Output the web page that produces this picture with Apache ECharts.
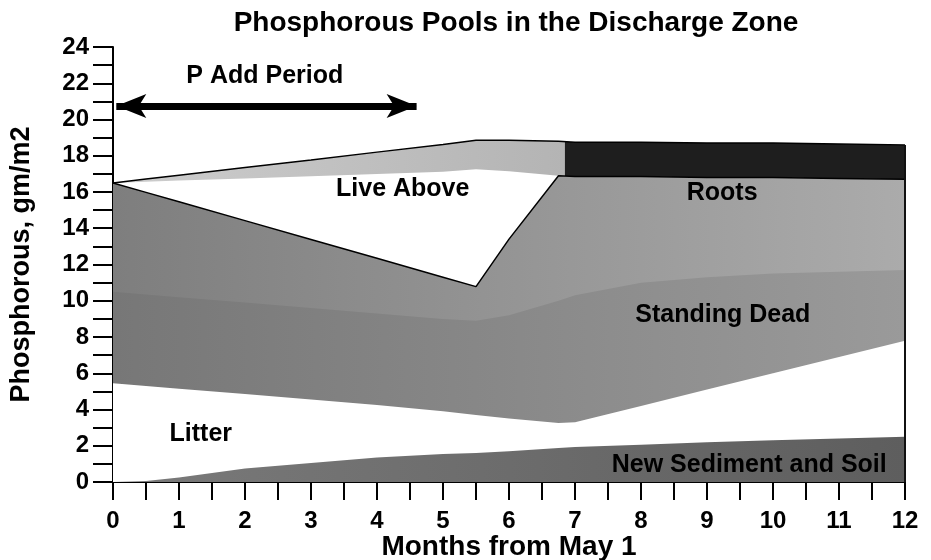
<!DOCTYPE html>
<html>
<head>
<meta charset="utf-8">
<script src="https://cdn.jsdelivr.net/npm/echarts@6/dist/echarts.min.js"></script>
<style>
  html, body { margin: 0; padding: 0; background: #fff; }
  #chart { width: 931px; height: 560px; }
</style>
</head>
<body>
<div id="chart"></div>
<script>
// months from May 1 (shared x values for every pool)
var months = [0, 0.5, 1, 2, 3, 4, 5, 5.5, 6, 6.75, 7, 8, 9, 10, 11, 12];

// P in each pool, gm/m2 (layer thickness)
var sediment     = [0, 0.05, 0.25, 0.75, 1.05, 1.35, 1.55, 1.6, 1.7, 1.88, 1.93, 2.05, 2.2, 2.3, 2.4, 2.5];
var litter       = [5.45, 5.25, 4.9, 4.1, 3.5, 2.9, 2.35, 2.1, 1.8, 1.37, 1.37, 2.15, 2.9, 3.7, 4.5, 5.3];
var standingDead = [5.05, 5.05, 5.05, 5.05, 5.05, 5.05, 5.1, 5.2, 5.7, 6.75, 7.0, 6.8, 6.2, 5.5, 4.7, 3.9];
var roots        = [6.0, 5.63, 5.26, 4.52, 3.78, 3.04, 2.3, 1.88, 4.2, 6.9, 6.55, 5.85, 5.5, 5.3, 5.15, 5.0];
var liveAbove    = [0, 0.59, 1.17, 2.33, 3.49, 4.66, 5.82, 6.47, 3.75, 0, 0, 0, 0, 0, 0, 0];
var topBand      = [0, 0.15, 0.3, 0.6, 0.9, 1.2, 1.5, 1.6, 1.7, 1.9, 1.9, 1.9, 1.9, 1.9, 1.9, 1.9];

// P add period arrow
var pAddStart = 0.05;
var pAddEnd = 4.6;
var pAddLevel = 20.75;

var font = '"Liberation Sans", Arial, Helvetica, sans-serif';

// echarts stacks the x dimension on a value/value grid, so sum the pools here
var pools = [sediment, litter, standingDead, roots, liveAbove, topBand];
var running = months.map(function () { return 0; });
var tops = pools.map(function (vals) {
    running = running.map(function (r, i) { return +(r + vals[i]).toFixed(3); });
    return running;
});
var lastMonth = months[months.length - 1];
var lastTotal = tops[5][months.length - 1];

function layer(name, idx, color, line) {
    return {
        name: name,
        type: 'line',
        symbol: 'none',
        data: months.map(function (m, i) { return [m, tops[idx][i]]; }),
        lineStyle: line || { width: 0 },
        areaStyle: { color: color, opacity: 1, origin: 'start' },
        silent: true
    };
}

function hgrad(left, right) {
    return new echarts.graphic.LinearGradient(0, 0, 1, 0, [
        { offset: 0, color: left },
        { offset: 1, color: right }
    ]);
}

function tag(text, x, y) {
    return {
        coord: [x, y],
        symbol: 'circle',
        symbolSize: 1,
        itemStyle: { color: 'rgba(0,0,0,0)' },
        label: {
            show: true,
            position: 'inside',
            formatter: text,
            color: '#000',
            fontFamily: font,
            fontWeight: 'bold',
            fontSize: 25
        }
    };
}

var myChart = echarts.init(document.getElementById('chart'));

var sedimentSeries = layer('New Sediment and Soil', 0, hgrad('#7a7a7a', '#5e5e5e'));
sedimentSeries.markPoint = {
    silent: true,
    data: [
        tag('P Add Period', 2.3, 22.4),
        tag('Live Above', 4.39, 16.17),
        tag('Roots', 9.23, 15.94),
        tag('Standing Dead', 9.24, 9.2),
        tag('Litter', 1.33, 2.65),
        tag('New Sediment and Soil', 9.64, 0.94)
    ]
};
sedimentSeries.markLine = {
    silent: true,
    symbol: 'none',
    label: { show: false },
    data: [
        [
            { coord: [pAddStart, pAddLevel], symbol: 'arrow', symbolSize: [18, 30],
              lineStyle: { color: '#000', width: 7, type: 'solid' } },
            { coord: [pAddEnd, pAddLevel], symbol: 'arrow', symbolSize: [18, 30] }
        ],
        [
            { coord: [lastMonth, 0], lineStyle: { color: '#111', width: 2, type: 'solid' } },
            { coord: [lastMonth, lastTotal] }
        ]
    ]
};

option = {
    animation: false,
    title: {
        text: 'Phosphorous Pools in the Discharge Zone',
        left: 511,
        textAlign: 'center',
        top: 4,
        textStyle: { fontFamily: font, fontWeight: 'bold', fontSize: 28, color: '#000' }
    },
    grid: { left: 113, right: 26, top: 47, bottom: 78, outerBoundsMode: 'none', containLabel: false },
    xAxis: {
        type: 'value',
        min: 0,
        max: 12,
        interval: 1,
        name: 'Months from May 1',
        nameLocation: 'middle',
        nameGap: 51,
        nameMoveOverlap: false,
        nameTextStyle: { fontFamily: font, fontWeight: 'bold', fontSize: 28, color: '#000' },
        axisLine: { show: true, lineStyle: { color: '#000', width: 2 } },
        axisTick: { show: true, inside: false, length: 18, lineStyle: { color: '#000', width: 2 } },
        minorTick: { show: true, splitNumber: 2, length: 18, lineStyle: { color: '#000', width: 2 } },
        axisLabel: { margin: 27, fontFamily: font, fontWeight: 'bold', fontSize: 24, color: '#000' },
        splitLine: { show: false }
    },
    yAxis: {
        type: 'value',
        min: 0,
        max: 24,
        interval: 2,
        name: 'Phosphorous, gm/m2',
        nameLocation: 'middle',
        nameGap: 78,
        nameMoveOverlap: false,
        nameTextStyle: { fontFamily: font, fontWeight: 'bold', fontSize: 27, color: '#000' },
        axisLine: { show: true, lineStyle: { color: '#000', width: 2 } },
        axisTick: { show: true, inside: false, length: 20, lineStyle: { color: '#000', width: 2 } },
        minorTick: { show: true, splitNumber: 2, length: 20, lineStyle: { color: '#000', width: 2 } },
        axisLabel: { margin: 24, fontFamily: font, fontWeight: 'bold', fontSize: 24, color: '#000' },
        splitLine: { show: false }
    },
    // drawn top pool first, each lower total paints over it
    series: [
        layer('Top', 5, new echarts.graphic.LinearGradient(0, 0, 1, 0, [
            { offset: 0, color: '#cdcdcd' },
            { offset: 0.57, color: '#b4b4b4' },
            { offset: 0.571, color: '#1e1e1e' },
            { offset: 1, color: '#1e1e1e' }
        ]), { width: 1.5, color: '#000' }),
        layer('Live Above', 4, '#ffffff'),
        layer('Roots', 3, hgrad('#7e7e7e', '#ababab'), { width: 1.5, color: '#000' }),
        layer('Standing Dead', 2, hgrad('#777777', '#9a9a9a')),
        layer('Litter', 1, '#ffffff'),
        sedimentSeries
    ]
};

myChart.setOption(option);
</script>
</body>
</html>
